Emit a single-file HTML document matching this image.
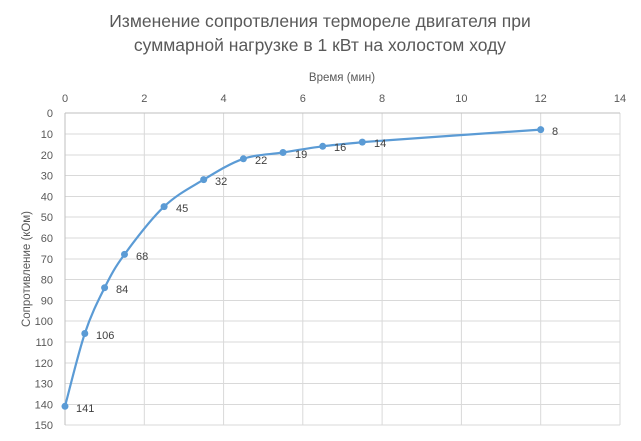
<!DOCTYPE html>
<html><head><meta charset="utf-8"><style>body{margin:0;background:#fff}svg{display:block}</style></head><body>
<svg width="641" height="441" xmlns="http://www.w3.org/2000/svg" font-family="Liberation Sans, sans-serif">
<rect width="641" height="441" fill="#fff"/>
<text x="320" y="27" font-size="17.5" fill="#595959" text-anchor="middle">Изменение сопротвления термореле двигателя при</text>
<text x="320" y="51" font-size="17.5" fill="#595959" text-anchor="middle">суммарной нагрузке в 1 кВт на холостом ходу</text>
<text x="342" y="81" font-size="11.5" fill="#595959" text-anchor="middle">Время (мин)</text>
<g stroke="#d9d9d9" stroke-width="1">
<line x1="65" y1="134" x2="620" y2="134"/><line x1="65" y1="155" x2="620" y2="155"/><line x1="65" y1="175.5" x2="620" y2="175.5"/><line x1="65" y1="196.5" x2="620" y2="196.5"/><line x1="65" y1="217" x2="620" y2="217"/><line x1="65" y1="238" x2="620" y2="238"/><line x1="65" y1="259" x2="620" y2="259"/><line x1="65" y1="279.5" x2="620" y2="279.5"/><line x1="65" y1="300.5" x2="620" y2="300.5"/><line x1="65" y1="321" x2="620" y2="321"/><line x1="65" y1="342" x2="620" y2="342"/><line x1="65" y1="363" x2="620" y2="363"/><line x1="65" y1="383.5" x2="620" y2="383.5"/><line x1="65" y1="404.5" x2="620" y2="404.5"/><line x1="65" y1="425" x2="620" y2="425"/>
<line x1="144.3" y1="113" x2="144.3" y2="425"/><line x1="223.6" y1="113" x2="223.6" y2="425"/><line x1="302.8" y1="113" x2="302.8" y2="425"/><line x1="382.1" y1="113" x2="382.1" y2="425"/><line x1="461.4" y1="113" x2="461.4" y2="425"/><line x1="540.7" y1="113" x2="540.7" y2="425"/><line x1="620" y1="113" x2="620" y2="425"/>
</g>
<g stroke="#bfbfbf"><line x1="65" y1="113" x2="620" y2="113"/><line x1="65" y1="113" x2="65" y2="425"/></g>
<g font-size="11" fill="#595959" text-anchor="middle">
<text x="65" y="102">0</text><text x="144.3" y="102">2</text><text x="223.6" y="102">4</text><text x="302.8" y="102">6</text><text x="382.1" y="102">8</text><text x="461.4" y="102">10</text><text x="540.7" y="102">12</text><text x="620" y="102">14</text>
</g>
<g font-size="11" fill="#595959" text-anchor="end">
<text x="53" y="117">0</text><text x="53" y="138">10</text><text x="53" y="159">20</text><text x="53" y="179.5">30</text><text x="53" y="200.5">40</text><text x="53" y="221">50</text><text x="53" y="242">60</text><text x="53" y="263">70</text><text x="53" y="283.5">80</text><text x="53" y="304.5">90</text><text x="53" y="325">100</text><text x="53" y="346">110</text><text x="53" y="367">120</text><text x="53" y="387.5">130</text><text x="53" y="408.5">140</text><text x="53" y="429">150</text>
</g>
<text transform="translate(30,269) rotate(-90)" font-size="11.5" fill="#595959" text-anchor="middle">Сопротивление (кОм)</text>
<path fill="none" stroke="#5b9bd5" stroke-width="2.2" d="M65,406.3 C68.3,394.2 78.2,353.3 84.8,333.5 C91.4,313.7 98,300.9 104.6,287.7 C111.2,274.5 114.6,267.9 124.5,254.4 C134.4,240.9 150.9,219.1 164.1,206.6 C177.3,194.1 190.5,187.6 203.7,179.6 C216.9,171.6 230.2,163.3 243.4,158.8 C256.6,154.3 269.8,154.6 283,152.5 C296.2,150.4 309.5,148 322.7,146.3 C335.9,144.6 350,143.5 362.3,142.1 C398.6,139.3 511,131.7 540.7,129.6"/>
<g fill="#5b9bd5">
<circle cx="65" cy="406.3" r="3.5"/><circle cx="84.8" cy="333.5" r="3.5"/><circle cx="104.6" cy="287.7" r="3.5"/><circle cx="124.5" cy="254.4" r="3.5"/><circle cx="164.1" cy="206.6" r="3.5"/><circle cx="203.7" cy="179.6" r="3.5"/><circle cx="243.4" cy="158.8" r="3.5"/><circle cx="283" cy="152.5" r="3.5"/><circle cx="322.7" cy="146.3" r="3.5"/><circle cx="362.3" cy="142.1" r="3.5"/><circle cx="540.7" cy="129.6" r="3.5"/>
</g>
<g font-size="11" fill="#404040">
<text x="76" y="412">141</text><text x="96" y="339">106</text><text x="116" y="293">84</text><text x="136" y="260">68</text><text x="176" y="212">45</text><text x="215" y="185">32</text><text x="255" y="164">22</text><text x="295" y="158">19</text><text x="334" y="151">16</text><text x="374" y="147">14</text><text x="552" y="135">8</text>
</g>
</svg>
</body></html>
